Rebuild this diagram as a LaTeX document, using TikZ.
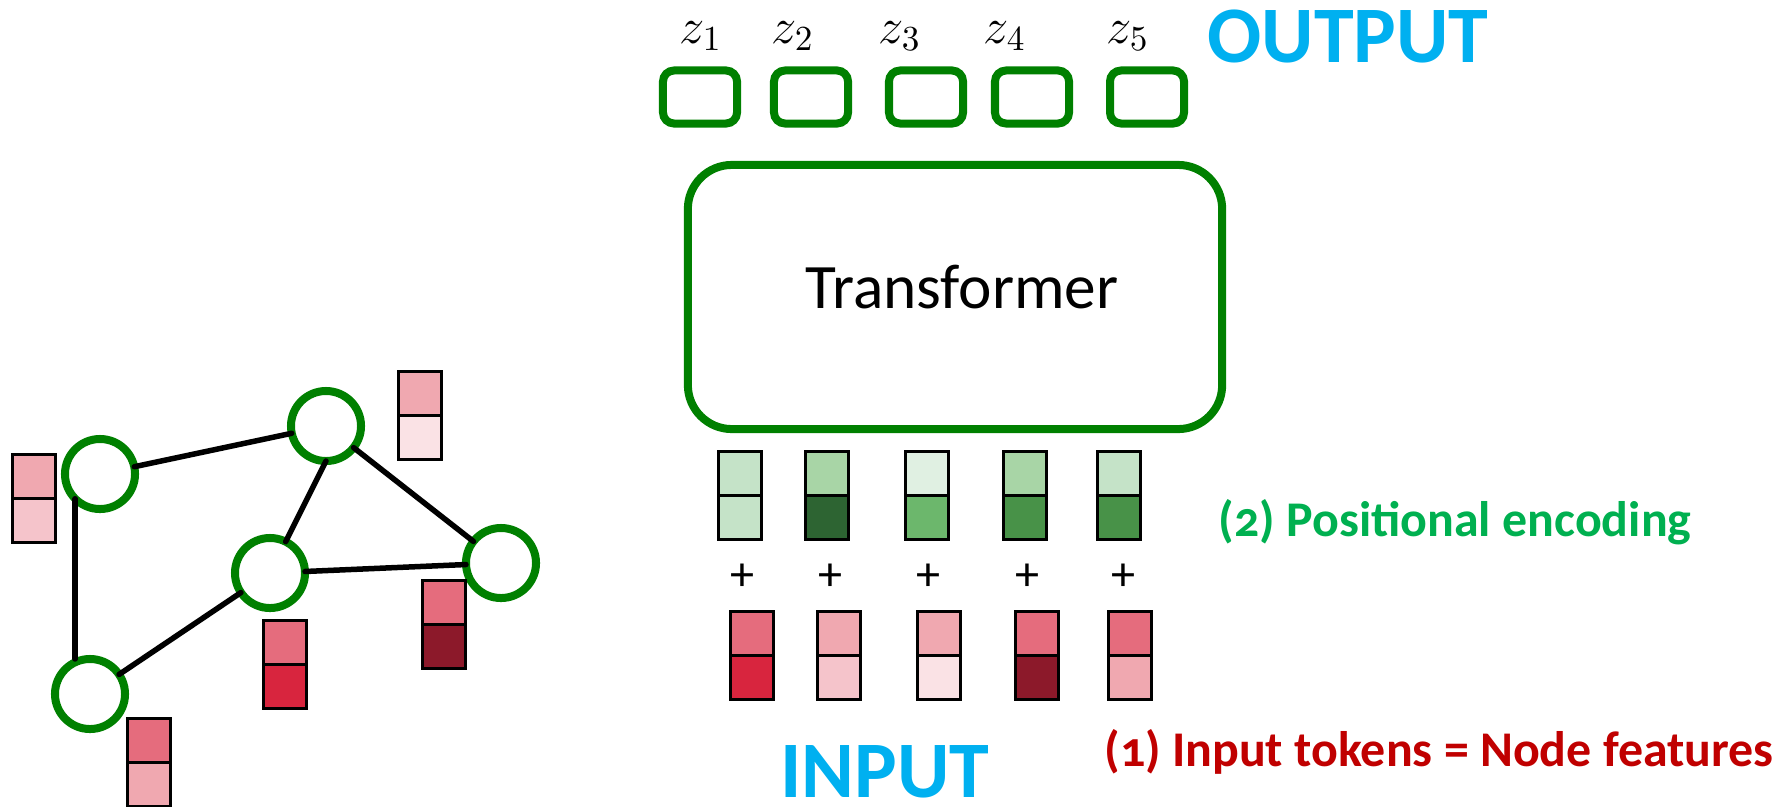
\documentclass[tikz,border=0pt]{standalone}
\usepackage{fontspec}
\setmainfont{Carlito}
\newfontfamily\labelfont[Numbers=OldStyle]{Carlito}
\usetikzlibrary{positioning}

\definecolor{ringgreen}{HTML}{008000}
\definecolor{titleblue}{HTML}{00B0F0}
\definecolor{posgreen}{HTML}{00B050}
\definecolor{tokred}{HTML}{C00000}
\definecolor{gr1}{HTML}{C5E3C8}
\definecolor{gr2}{HTML}{A8D5A6}
\definecolor{gr3}{HTML}{2D6432}
\definecolor{gr4}{HTML}{E0F0E2}
\definecolor{gr5}{HTML}{6CB76C}
\definecolor{gr6}{HTML}{489248}
\definecolor{rd1}{HTML}{E56C7D}
\definecolor{rd2}{HTML}{D8253E}
\definecolor{rd3}{HTML}{F0A8B0}
\definecolor{rd4}{HTML}{F5C4CB}
\definecolor{rd5}{HTML}{FAE2E5}
\definecolor{rd6}{HTML}{8C192A}

\begin{document}
\begin{tikzpicture}[x=0.01cm, y=-0.01cm,
    ring/.style={circle, draw=ringgreen, line width=0.08cm, minimum size=0.7cm, inner sep=0pt, outer sep=0pt},
    outbox/.style={draw=ringgreen, line width=0.08cm, rounded corners=0.11cm, minimum width=0.74cm, minimum height=0.53cm, inner sep=0pt},
    cell/.style={draw=black, line width=0.03cm, minimum width=0.43cm, minimum height=0.44cm, inner sep=0pt, outer sep=0pt},
    edge/.style={line width=0.055cm, line cap=round},
    title/.style={text=titleblue, anchor=base, inner sep=0pt, font=\bfseries\fontsize{22.8}{27}\selectfont},
    note/.style={anchor=base, inner sep=0pt, font=\labelfont\bfseries\fontsize{14.2}{17}\selectfont}]
  \useasboundingbox (0,0) rectangle (1786,806);

  % output side
  \foreach \x/\zx [count=\i] in {700/701, 811/793, 926/900, 1032/1005, 1147/1128} {
    \node[outbox] (out\i) at (\x,97) {};
    \node[anchor=base, inner sep=0pt, font=\fontsize{14.2}{17}\selectfont] (z\i) at (\zx,43) {$z_{\i}$};
  }
  \node[title] (output) at (1348,62) {OUTPUT};

  \node[draw=ringgreen, line width=0.08cm, rounded corners=0.44cm, minimum width=5.34cm, minimum height=2.64cm] (trans) at (955,297) {};
  \node[anchor=base, inner sep=0pt, font=\fontsize{18}{22}\selectfont] (translabel) at (962,308) {Transformer};

  % positional encodings + input tokens
  \foreach \gx/\gt/\gb/\rx/\rt/\rb/\px [count=\i] in {717/gr1/gr1/729/rd1/rd2/742, 804/gr2/gr3/816/rd3/rd4/830,
      904/gr4/gr5/916/rd3/rd5/928, 1002/gr2/gr6/1014/rd1/rd6/1027, 1096/gr1/gr6/1107/rd1/rd3/1123} {
    \node[cell, fill=\gt] (pos\i-top) at (\gx+23,473.5) {};
    \node[cell, fill=\gb, below=0pt of pos\i-top] (pos\i-bot) {};
    \node[inner sep=0pt, font=\fontsize{13.7}{16}\selectfont] (plus\i) at (\px,577) {+};
    \node[cell, fill=\rt] (tok\i-top) at (\rx+23,633.5) {};
    \node[cell, fill=\rb, below=0pt of tok\i-top] (tok\i-bot) {};
  }
  \node[note, text=posgreen] (poslabel) at (1455,536) {(2) Positional encoding};
  \node[note, text=tokred] (toklabel) at (1439,766) {(1) Input tokens = Node features};
  \node[title] (input) at (885,797) {INPUT};

  % graph
  \node[ring] (v1) at (100,474) {};
  \node[ring] (v2) at (326,426) {};
  \node[ring] (v3) at (270,573) {};
  \node[ring] (v4) at (501,563) {};
  \node[ring] (v5) at (90,694) {};
  \draw[edge] (v1) -- (v2);
  \draw[edge] (v2.south) -- (v3);
  \draw[edge] (v2) -- (v4);
  \draw[edge] (v3) -- (v4);
  \draw[edge] (v3) -- (v5);
  \draw[edge] (v1.225) -- (v1.225 |- v5.north);

  \foreach \v/\fx/\fy/\ft/\fb in {1/11/453/rd3/rd4, 2/397/370/rd3/rd5, 3/262/619/rd1/rd2,
      4/421/579/rd1/rd6, 5/126/717/rd1/rd3} {
    \node[cell, fill=\ft] (feat\v-top) at (\fx+23,\fy+23.5) {};
    \node[cell, fill=\fb, below=0pt of feat\v-top] (feat\v-bot) {};
  }
\end{tikzpicture}
\end{document}
